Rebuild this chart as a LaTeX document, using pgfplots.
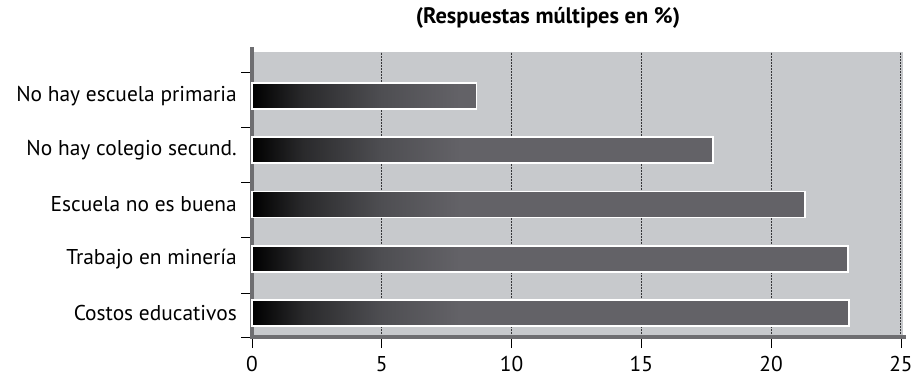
\documentclass[border=0pt]{standalone}
\usepackage{pgfplots}
\pgfplotsset{compat=1.18}
\usepackage{fontspec}
\setmainfont{PT Sans}
\definecolor{bgc}{RGB}{199,201,204}
\definecolor{axg}{RGB}{110,110,113}
\definecolor{gridc}{RGB}{55,55,58}
\definecolor{ca}{RGB}{42,42,44}
\definecolor{cb}{RGB}{78,78,82}
\definecolor{cc}{RGB}{99,98,103}
\pgfdeclarehorizontalshading{sa}{100bp}{color(0bp)=(black); color(25bp)=(black); color(36.6bp)=(ca); color(53.9bp)=(cb); color(71.2bp)=(cc); color(100bp)=(cc)}
\pgfdeclarehorizontalshading{sb}{100bp}{color(0bp)=(black); color(25bp)=(black); color(30.6bp)=(ca); color(39.1bp)=(cb); color(47.6bp)=(cc); color(100bp)=(cc)}
\pgfdeclarehorizontalshading{sc}{100bp}{color(0bp)=(black); color(25bp)=(black); color(29.7bp)=(ca); color(36.7bp)=(cb); color(43.8bp)=(cc); color(100bp)=(cc)}
\pgfdeclarehorizontalshading{sd}{100bp}{color(0bp)=(black); color(25bp)=(black); color(29.4bp)=(ca); color(35.9bp)=(cb); color(42.4bp)=(cc); color(100bp)=(cc)}
\begin{document}
\begin{tikzpicture}[x=1bp,y=1bp]
\path[use as bounding box] (0,0) rectangle (914,379);
\node[font=\fontsize{22.5}{26}\selectfont\bfseries] at (548,361) {(Respuestas múltipes en \%)};
\begin{axis}[
  at={(252bp,42bp)}, anchor=south west,
  scale only axis, width=651bp, height=285bp,
  xmin=0, xmax=25.08, ymin=-0.44, ymax=4.81,
  axis background/.style={fill=bgc},
  axis x line*=bottom, axis y line*=left,
  axis line style={draw=axg, line width=3.5bp},
  x axis line style={shorten >=-3bp, shorten <=-2bp},
  y axis line style={shorten >=-5bp},
  xtick={0,5,...,25},
  xtick pos=bottom, ytick pos=left,
  tick align=outside,
  major tick length=11bp,
  tick style={black, line width=0.8bp},
  xmajorgrids,
  grid style={gridc, line width=1.1bp, dash pattern=on 2bp off 1bp},
  ytick={-0.44,0.37,1.39,2.40,3.42,4.44},
  yticklabels={},
  extra y ticks={0,1,2,3,4},
  extra y tick labels={Costos educativos, Trabajo en minería, Escuela no es buena, No hay colegio secund., No hay escuela primaria},
  extra y tick style={tick style={draw=none}},
  yticklabel style={inner sep=0pt, xshift=-4bp},
  xticklabel style={inner sep=0pt, text depth=0pt, yshift=-8.5bp},
  tick label style={font=\fontsize{21.5}{24}\selectfont},
  /pgf/number format/assume math mode=true,
  clip=false,
]
\addplot[xbar, bar width=26bp, bar shift=0pt, shade, shading=sa, draw=white, line width=1.6bp] coordinates {(8.65,4)};
\addplot[xbar, bar width=26bp, bar shift=0pt, shade, shading=sb, draw=white, line width=1.6bp] coordinates {(17.75,3)};
\addplot[xbar, bar width=26bp, bar shift=0pt, shade, shading=sc, draw=white, line width=1.6bp] coordinates {(21.3,2)};
\addplot[xbar, bar width=26bp, bar shift=0pt, shade, shading=sd, draw=white, line width=1.6bp] coordinates {(22.95,1)};
\addplot[xbar, bar width=26bp, bar shift=0pt, shade, shading=sd, draw=white, line width=1.6bp] coordinates {(23.0,0)};
\end{axis}
\end{tikzpicture}
\end{document}
